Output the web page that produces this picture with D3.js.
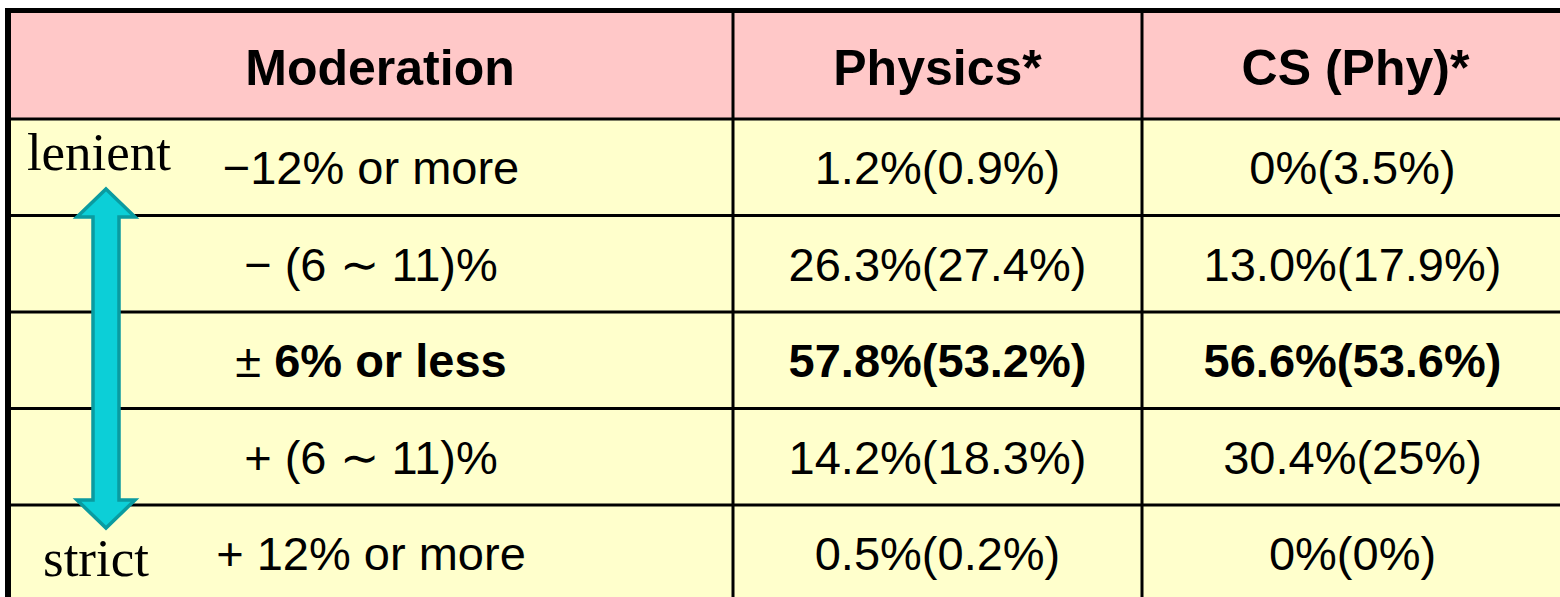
<!DOCTYPE html>
<html>
<head>
<meta charset="utf-8">
<script src="https://cdn.jsdelivr.net/npm/d3@7"></script>
<style>
  html, body { margin: 0; padding: 0; background: #fff; overflow: hidden; }
  svg { display: block; }
</style>
</head>
<body>
<div id="tablechart"></div>
<script>
// table contents
var headers = ["Moderation", "Physics*", "CS (Phy)*"];
var moderation = ["\u221212% or more", "\u2212 (6 \u223c 11)%", "\u00b1 6% or less", "+ (6 \u223c 11)%", "+ 12% or more"];
var physics = ["1.2%(0.9%)", "26.3%(27.4%)", "57.8%(53.2%)", "14.2%(18.3%)", "0.5%(0.2%)"];
var csPhy = ["0%(3.5%)", "13.0%(17.9%)", "56.6%(53.6%)", "30.4%(25%)", "0%(0%)"];
var boldRow = "\u00b1 6% or less";
var endLabels = ["lenient", "strict"];

var width = 1560;
var height = 597;

var svg = d3.select('#tablechart')
    .append('svg')
        .attr('width', width)
        .attr('height', height);

// column edges (right edge sits on the picture border)
var colEdges = [8, 733, 1142, 1563];
var headerTop = 10.5, headerBottom = 119;

let yScale = d3.scaleBand()
    .domain(moderation)
    .range([headerBottom, headerBottom + 96.5 * moderation.length]);

// header background
svg.append('rect')
    .attr('x', colEdges[0]).attr('y', headerTop)
    .attr('width', colEdges[3] - colEdges[0]).attr('height', headerBottom - headerTop)
    .attr('fill', '#ffc8c8');

// body rows
svg.selectAll('rect.row')
    .data(moderation)
    .enter().append('rect')
        .attr('class', 'row')
        .attr('x', colEdges[0])
        .attr('y', d => yScale(d))
        .attr('width', colEdges[3] - colEdges[0])
        .attr('height', yScale.bandwidth())
        .attr('fill', '#ffffcc');

// horizontal lines
svg.selectAll('line.h')
    .data(moderation)
    .enter().append('line')
        .attr('class', 'h')
        .attr('x1', colEdges[0]).attr('x2', colEdges[3])
        .attr('y1', d => yScale(d)).attr('y2', d => yScale(d))
        .attr('stroke', '#000')
        .attr('stroke-width', 3);

// vertical lines
svg.selectAll('line.v')
    .data(colEdges.slice(1))
    .enter().append('line')
        .attr('class', 'v')
        .attr('x1', d => d).attr('x2', d => d)
        .attr('y1', headerTop).attr('y2', height + 10)
        .attr('stroke', '#000')
        .attr('stroke-width', 3);

// outer border (left and top, thicker)
svg.append('line')
    .attr('x1', colEdges[0]).attr('x2', colEdges[0])
    .attr('y1', headerTop - 2.5).attr('y2', height + 10)
    .attr('stroke', '#000').attr('stroke-width', 6);
svg.append('line')
    .attr('x1', colEdges[0]).attr('x2', colEdges[3])
    .attr('y1', headerTop).attr('y2', headerTop)
    .attr('stroke', '#000').attr('stroke-width', 5);

function colCenter(i) { return (colEdges[i] + colEdges[i + 1]) / 2; }
var centers = [371, colCenter(1), colCenter(2)];
var headCenters = [380, colCenter(1), colCenter(2) + 3];

// header text
svg.selectAll('text.head')
    .data(headers)
    .enter().append('text')
        .attr('class', 'head')
        .attr('x', (d, i) => headCenters[i])
        .attr('y', 85)
        .attr('text-anchor', 'middle')
        .attr('font-family', 'Liberation Sans, Arial, sans-serif')
        .attr('font-weight', 'bold')
        .attr('font-size', 50)
        .text(d => d);

var bodyFont = 47;
var rows = moderation.map((m, i) => ({ mod: m, phy: physics[i], cs: csPhy[i] }));

var rowG = svg.selectAll('g.rowtext')
    .data(rows)
    .enter().append('g')
        .attr('class', 'rowtext')
        .attr('transform', d => 'translate(0,' + (yScale(d.mod) + yScale.bandwidth() / 2 + 0.36 * bodyFont) + ')')
        .attr('font-family', 'Liberation Sans, Arial, sans-serif')
        .attr('font-size', bodyFont)
        .attr('text-anchor', 'middle');

rowG.append('text')
    .attr('x', centers[0])
    .each(function (d) {
        let t = d3.select(this);
        if (d.mod === boldRow) {
            t.append('tspan').text('\u00b1 ');
            t.append('tspan').attr('font-weight', 'bold').text(d.mod.slice(2));
        } else {
            t.text(d.mod);
        }
    });

rowG.append('text')
    .attr('x', centers[1])
    .attr('font-weight', d => d.mod === boldRow ? 'bold' : 'normal')
    .text(d => d.phy);

rowG.append('text')
    .attr('x', centers[2])
    .attr('font-weight', d => d.mod === boldRow ? 'bold' : 'normal')
    .text(d => d.cs);

// lenient / strict labels
svg.selectAll('text.end')
    .data(endLabels)
    .enter().append('text')
        .attr('class', 'end')
        .attr('x', (d, i) => i === 0 ? 99 : 96)
        .attr('y', (d, i) => i === 0 ? 170 : 576)
        .attr('text-anchor', 'middle')
        .attr('font-family', 'Liberation Serif, Times New Roman, serif')
        .attr('font-size', 53)
        .text(d => d);

// double-headed arrow
var ax = 106;
var topTip = yScale(moderation[0]) + 70;
var botTip = yScale(moderation[moderation.length - 1]) + 23;
var headH = 28, headW = 29, shaftW = 13;
var p = d3.path();
p.moveTo(ax, topTip);
p.lineTo(ax + headW, topTip + headH);
p.lineTo(ax + shaftW, topTip + headH);
p.lineTo(ax + shaftW, botTip - headH);
p.lineTo(ax + headW, botTip - headH);
p.lineTo(ax, botTip);
p.lineTo(ax - headW, botTip - headH);
p.lineTo(ax - shaftW, botTip - headH);
p.lineTo(ax - shaftW, topTip + headH);
p.lineTo(ax - headW, topTip + headH);
p.closePath();

svg.append('path')
    .attr('d', p.toString())
    .attr('fill', '#0ccfd7')
    .attr('stroke', '#0a9ba0')
    .attr('stroke-width', 3.5)
    .attr('stroke-linejoin', 'miter');
</script>
</body>
</html>
